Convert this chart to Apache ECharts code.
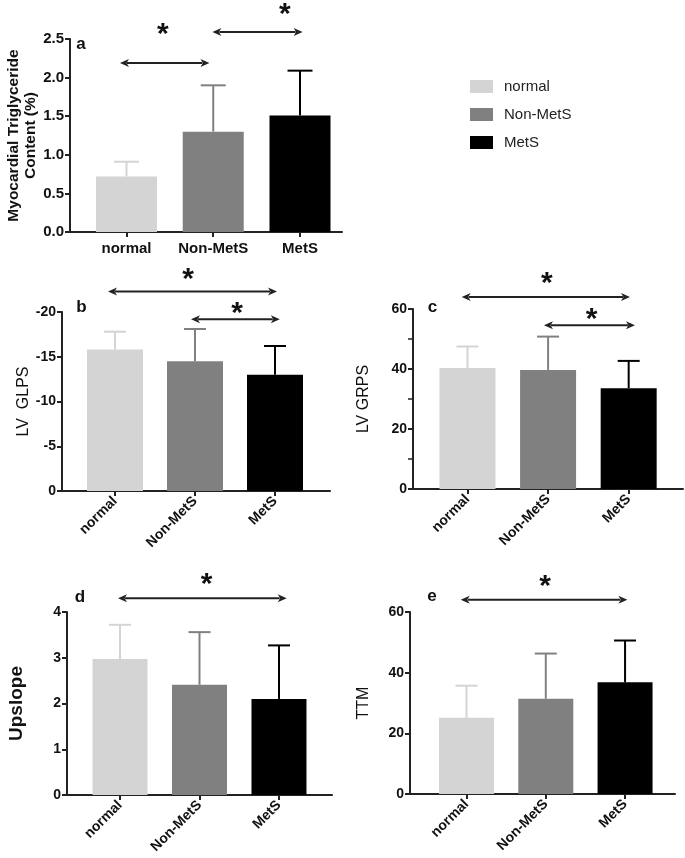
<!DOCTYPE html>
<html><head><meta charset="utf-8">
<script src="https://cdn.jsdelivr.net/npm/echarts@6/dist/echarts.min.js"></script>
<style>html,body{margin:0;padding:0;background:#fff}#c{width:685px;height:858px}</style>
</head><body><div id="c"></div>
<script>
// ---------- data ----------
const categories = ['normal', 'Non-MetS', 'MetS'];
const tickPositions = [0, 1, 2];

const mtgcMean = [0.72, 1.30, 1.51];
const mtgcUpper = [0.91, 1.90, 2.09];
const glpsMean = [-15.8, -14.5, -13.0];
const glpsUpper = [-17.8, -18.1, -16.2];
const grpsMean = [40.3, 39.7, 33.6];
const grpsUpper = [47.5, 50.8, 42.7];
const upslopeMean = [2.97, 2.41, 2.10];
const upslopeUpper = [3.72, 3.56, 3.27];
const ttmMean = [25.1, 31.4, 36.8];
const ttmUpper = [35.7, 46.3, 50.6];

// significance arrows [fromX, toX, y] and stars [x, y] (data units)
const sigArrowsA = [[-0.075, 0.956, 2.19], [0.99, 2.03, 2.59]];
const sigStarsA = [[0.42, 2.64], [1.825, 2.90]];
const sigArrowsB = [[-0.0875, 2.025, -22.3], [0.95, 2.06, -19.2]];
const sigStarsB = [[0.9125, -24.4], [1.525, -20.6]];
const sigArrowsC = [[-0.072, 2.016, 64.0], [0.949, 2.078, 54.6]];
const sigStarsC = [[0.986, 70.6], [1.54, 58.8]];
const sigArrowsD = [[-0.025, 2.097, 4.30]];
const sigStarsD = [[1.09, 4.74]];
const sigArrowsE = [[-0.073, 2.029, 64.06]];
const sigStarsE = [[0.99, 70.7]];

// ---------- styles / layout ----------
const colors = ['#d4d4d4', '#808080', '#000000'];
const FONT = 'Liberation Sans, Arial, sans-serif';

const panels = [
  { letter: 'a', mean: mtgcMean, upper: mtgcUpper, arrows: sigArrowsA, stars: sigStarsA,
    grid: { left: 70, top: 39, width: 272, height: 193 }, xmin: -0.651, xmax: 2.484,
    ymin: 0, ymax: 2.5, interval: 0.5, fmt: v => v.toFixed(1), inverse: false,
    name: 'Myocardial Triglyceride\nContent (%)', nameGap: 30, nameStyle: { fontSize: 15.5, fontWeight: 'bold', lineHeight: 17 },
    barW: 61, capW: 25, rotate: 0, xFont: 15, yFont: 15, xMargin: 9, letterPos: [81, 44] },
  { letter: 'b', mean: glpsMean, upper: glpsUpper, arrows: sigArrowsB, stars: sigStarsB,
    grid: { left: 62, top: 312, width: 268, height: 179 }, xmin: -0.6625, xmax: 2.6875,
    ymin: -20, ymax: 0, interval: 5, fmt: v => String(v), inverse: true,
    name: 'LV  GLPS', nameGap: 29, nameStyle: { fontSize: 16, fontWeight: 'normal' },
    barW: 56, capW: 22, rotate: 45, xFont: 14, yFont: 14, xMargin: 8, letterPos: [81.5, 307] },
  { letter: 'c', mean: grpsMean, upper: grpsUpper, arrows: sigArrowsC, stars: sigStarsC,
    grid: { left: 413, top: 309, width: 270, height: 180 }, xmin: -0.676, xmax: 2.674,
    ymin: 0, ymax: 60, interval: 20, fmt: v => String(v), inverse: false, minor: true,
    name: 'LV GRPS', nameGap: 41, nameStyle: { fontSize: 16, fontWeight: 'normal' },
    barW: 56, capW: 22, rotate: 45, xFont: 14, yFont: 14, xMargin: 8, letterPos: [432.5, 307] },
  { letter: 'd', mean: upslopeMean, upper: upslopeUpper, arrows: sigArrowsD, stars: sigStarsD,
    grid: { left: 67, top: 612, width: 265, height: 183 }, xmin: -0.667, xmax: 2.667,
    ymin: 0, ymax: 4, interval: 1, fmt: v => String(v), inverse: false,
    name: 'Upslope', nameGap: 41, nameStyle: { fontSize: 19, fontWeight: 'bold' },
    barW: 55, capW: 22, rotate: 45, xFont: 14, yFont: 14, xMargin: 8, letterPos: [80, 597.5] },
  { letter: 'e', mean: ttmMean, upper: ttmUpper, arrows: sigArrowsE, stars: sigStarsE,
    grid: { left: 410, top: 612, width: 265, height: 182 }, xmin: -0.713, xmax: 2.63,
    ymin: 0, ymax: 60, interval: 20, fmt: v => String(v), inverse: false,
    name: 'TTM', nameGap: 38, nameStyle: { fontSize: 16, fontWeight: 'normal' },
    barW: 55, capW: 22, rotate: 45, xFont: 14, yFont: 14, xMargin: 8, letterPos: [432, 596] }
];

function errRender(capW) {
  return function (params, api) {
    const x = api.value(0), m = api.value(1), u = api.value(2);
    const p0 = api.coord([x, m]), p1 = api.coord([x, u]);
    const c = colors[params.dataIndex];
    return { type: 'group', children: [
      { type: 'line', shape: { x1: p0[0], y1: p0[1], x2: p1[0], y2: p1[1] }, style: { stroke: c, lineWidth: 2 } },
      { type: 'line', shape: { x1: p1[0] - capW / 2, y1: p1[1], x2: p1[0] + capW / 2, y2: p1[1] }, style: { stroke: c, lineWidth: 2 } }
    ] };
  };
}
function arrowRender(params, api) {
  const a = api.coord([api.value(0), api.value(2)]);
  const b = api.coord([api.value(1), api.value(2)]);
  const y = a[1];
  const hl = 9, hw = 4;
  return { type: 'group', children: [
    { type: 'line', shape: { x1: a[0] + hl - 2, y1: y, x2: b[0] - hl + 2, y2: y }, style: { stroke: '#222', lineWidth: 2 } },
    { type: 'polygon', shape: { points: [[a[0], y], [a[0] + hl, y - hw], [a[0] + hl - 2.5, y], [a[0] + hl, y + hw]] }, style: { fill: '#222' } },
    { type: 'polygon', shape: { points: [[b[0], y], [b[0] - hl, y - hw], [b[0] - hl + 2.5, y], [b[0] - hl, y + hw]] }, style: { fill: '#222' } }
  ] };
}
function starRender(params, api) {
  const p = api.coord([api.value(0), api.value(1)]);
  const fs = 30;
  return { type: 'text', x: p[0], y: p[1] + 0.23 * fs,
    style: { text: '*', font: 'bold ' + fs + 'px ' + FONT, fill: '#111', align: 'center', verticalAlign: 'middle' } };
}

const grids = [], xAxes = [], yAxes = [], series = [], graphics = [];
panels.forEach((p, k) => {
  grids.push(Object.assign({ containLabel: false }, p.grid));
  xAxes.push({
    type: 'value', gridIndex: k, min: p.xmin, max: p.xmax,
    axisLine: { show: true, onZero: false, lineStyle: { color: '#222', width: 2 } },
    axisTick: { show: true, customValues: tickPositions, length: 5, lineStyle: { color: '#222', width: 2 } },
    axisLabel: { customValues: tickPositions, formatter: v => categories[Math.round(v)], rotate: p.rotate,
      fontFamily: FONT, fontWeight: 'bold', fontSize: p.xFont, color: '#111', margin: p.xMargin },
    splitLine: { show: false }
  });
  yAxes.push({
    type: 'value', gridIndex: k, min: p.ymin, max: p.ymax, interval: p.interval, inverse: p.inverse,
    axisLine: { show: true, onZero: false, lineStyle: { color: '#222', width: 2 } },
    axisTick: { show: true, length: 5, lineStyle: { color: '#222', width: 2 } },
    minorTick: p.minor ? { show: true, splitNumber: 2, length: 5, lineStyle: { color: '#222', width: 1.5 } } : { show: false },
    axisLabel: { formatter: p.fmt, fontFamily: FONT, fontWeight: 'bold', fontSize: p.yFont, color: '#111', margin: 6 },
    splitLine: { show: false },
    name: p.name, nameLocation: 'middle', nameGap: p.nameGap,
    nameTextStyle: Object.assign({ fontFamily: FONT, color: '#111' }, p.nameStyle)
  });
  categories.forEach((c, i) => {
    series.push({ type: 'bar', name: c, xAxisIndex: k, yAxisIndex: k, data: [[tickPositions[i], p.mean[i]]],
      barWidth: p.barW, barGap: '-100%', itemStyle: { color: colors[i] }, silent: true });
  });
  series.push({ type: 'custom', xAxisIndex: k, yAxisIndex: k, renderItem: errRender(p.capW),
    data: categories.map((c, i) => [tickPositions[i], p.mean[i], p.upper[i]]), encode: { x: 0, y: [1, 2] }, z: 3, silent: true });
  series.push({ type: 'custom', xAxisIndex: k, yAxisIndex: k, renderItem: arrowRender,
    data: p.arrows, encode: { x: [0, 1], y: 2 }, z: 4, silent: true });
  series.push({ type: 'custom', xAxisIndex: k, yAxisIndex: k, renderItem: starRender,
    data: p.stars, encode: { x: 0, y: 1 }, z: 4, silent: true });
  graphics.push({ type: 'text', x: p.letterPos[0], y: p.letterPos[1],
    style: { text: p.letter, font: 'bold 17px ' + FONT, fill: '#111', align: 'center', verticalAlign: 'middle' } });
});

const chart = echarts.init(document.getElementById('c'), null, { renderer: 'canvas' });
chart.setOption({
  animation: false,
  backgroundColor: '#fff',
  grid: grids, xAxis: xAxes, yAxis: yAxes, series: series,
  graphic: graphics,
  legend: {
    data: categories, orient: 'vertical', left: 465, top: 74, itemWidth: 23, itemHeight: 13, itemGap: 13,
    icon: 'rect', selectedMode: false,
    textStyle: { fontFamily: FONT, fontSize: 15, color: '#222', padding: [0, 0, 0, 6], lineHeight: 13 }
  }
});
</script></body></html>
